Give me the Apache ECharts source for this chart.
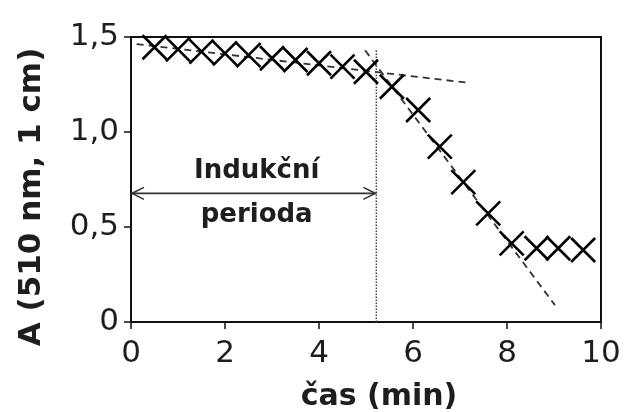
<!DOCTYPE html>
<html>
<head>
<meta charset="utf-8">
<script src="https://cdn.jsdelivr.net/npm/echarts@6/dist/echarts.min.js"></script>
<style>html,body{margin:0;padding:0;background:#fff;}#c{width:628px;height:412px;}</style>
</head>
<body>
<div id="c"></div>
<script>
// time (min) and absorbance readings
var times = [0.5, 1.0, 1.5, 2.0, 2.5, 3.0, 3.5, 4.0, 4.5, 5.0, 5.55, 6.11, 6.57, 7.07, 7.6, 8.1, 8.63, 9.09, 9.62];
var absorb = [1.446, 1.435, 1.423, 1.414, 1.405, 1.388, 1.379, 1.362, 1.344, 1.317, 1.238, 1.116, 0.923, 0.736, 0.572, 0.414, 0.388, 0.388, 0.379];
// dashed tangent lines (endpoints)
var fit1X = [0.12, 7.14];
var fit1Y = [1.463, 1.26];
var fit2X = [4.98, 9.02];
var fit2Y = [1.43, 0.089];
// induction period end
var inductionEnd = 5.22;
var inductionTopY = 1.43;
var arrowY = 0.677;
var xTicks = [0, 2, 4, 6, 8, 10];
var yTicks = [0, 0.5, 1.0, 1.5];
var xName = 'čas (min)';
var yName = 'A (510 nm, 1 cm)';
var periodLabel = ['Indukční', 'perioda'];

var chart = echarts.init(document.getElementById('c'), null, {renderer: 'canvas'});
var FONT = 'DejaVu Sans';
var TXT = '#1e1e1e';

function pairs(xs, ys) { return xs.map(function (x, i) { return [x, ys[i]]; }); }

var option = {
  animation: false,
  backgroundColor: '#fff',
  grid: {left: 131, right: 27, top: 37, bottom: 90, show: true, borderColor: '#111', borderWidth: 2, backgroundColor: 'transparent'},
  xAxis: {
    type: 'value', min: 0, max: 10, interval: 2,
    axisLine: {show: true, onZero: false, lineStyle: {color: '#111', width: 2}},
    axisTick: {show: true, length: 7, lineStyle: {color: '#111', width: 1.5}},
    axisLabel: {fontFamily: FONT, fontSize: 31, color: TXT, margin: 16,
      formatter: function (v) { return xTicks.indexOf(v) >= 0 ? String(v) : ''; }},
    splitLine: {show: false}
  },
  yAxis: {
    type: 'value', min: 0, max: 1.5, interval: 0.5,
    axisLine: {show: true, onZero: false, lineStyle: {color: '#111', width: 2}},
    axisTick: {show: true, length: 7, lineStyle: {color: '#111', width: 1.5}},
    axisLabel: {fontFamily: FONT, fontSize: 31, color: TXT, margin: 12,
      formatter: function (v) { return v === 0 ? '0' : v.toFixed(1).replace('.', ','); }},
    splitLine: {show: false}
  },
  graphic: [
    {type: 'text', style: {text: yName, font: 'bold 31px "DejaVu Sans"', fill: TXT, textAlign: 'center', textVerticalAlign: 'middle'}, x: 32, y: 197, rotation: Math.PI / 2},
    {type: 'text', style: {text: xName, font: 'bold 30px "DejaVu Sans"', fill: TXT, textAlign: 'center', textVerticalAlign: 'middle'}, x: 379, y: 397}
  ],
  series: [
    {
      type: 'line', data: pairs(fit1X, fit1Y), showSymbol: false, symbol: 'none',
      lineStyle: {color: '#333', width: 1.8, type: [7, 5]}, z: 2
    },
    {
      type: 'line', data: pairs(fit2X, fit2Y), showSymbol: false, symbol: 'none',
      lineStyle: {color: '#333', width: 1.8, type: [7, 5]}, z: 2
    },
    {
      type: 'line', data: [[inductionEnd, 0], [inductionEnd, inductionTopY]], showSymbol: false, symbol: 'none',
      lineStyle: {color: '#444', width: 1.5, type: [1.5, 1.5]}, z: 2
    },
    {
      type: 'scatter', data: pairs(times, absorb),
      symbol: 'path://M0,0L10,10M10,0L0,10', symbolSize: 24,
      itemStyle: {color: 'rgba(0,0,0,0)', borderColor: '#000', borderWidth: 2.6, opacity: 1}, z: 3
    },
    {
      type: 'custom', data: [[0, arrowY, inductionEnd]], z: 3,
      renderItem: function (params, api) {
        var a = api.coord([api.value(0), api.value(1)]);
        var b = api.coord([api.value(2), api.value(1)]);
        var s = {stroke: '#333', lineWidth: 1.6, fill: null};
        var lx = a[0] + 1, rx = b[0] - 1, y = a[1];
        var mid = (a[0] + b[0]) / 2;
        return {type: 'group', children: [
          {type: 'line', shape: {x1: lx, y1: y, x2: rx, y2: y}, style: s},
          {type: 'polyline', shape: {points: [[lx + 12, y - 6], [lx, y], [lx + 12, y + 6]]}, style: s},
          {type: 'polyline', shape: {points: [[rx - 12, y - 6], [rx, y], [rx - 12, y + 6]]}, style: s},
          {type: 'text', style: {text: periodLabel[0], x: mid + 3, y: y - 22, font: 'bold 26px "DejaVu Sans"', fill: TXT, textAlign: 'center', textVerticalAlign: 'middle'}},
          {type: 'text', style: {text: periodLabel[1], x: mid + 3, y: y + 22, font: 'bold 26px "DejaVu Sans"', fill: TXT, textAlign: 'center', textVerticalAlign: 'middle'}}
        ]};
      }
    }
  ]
};
chart.setOption(option);
</script>
</body>
</html>
